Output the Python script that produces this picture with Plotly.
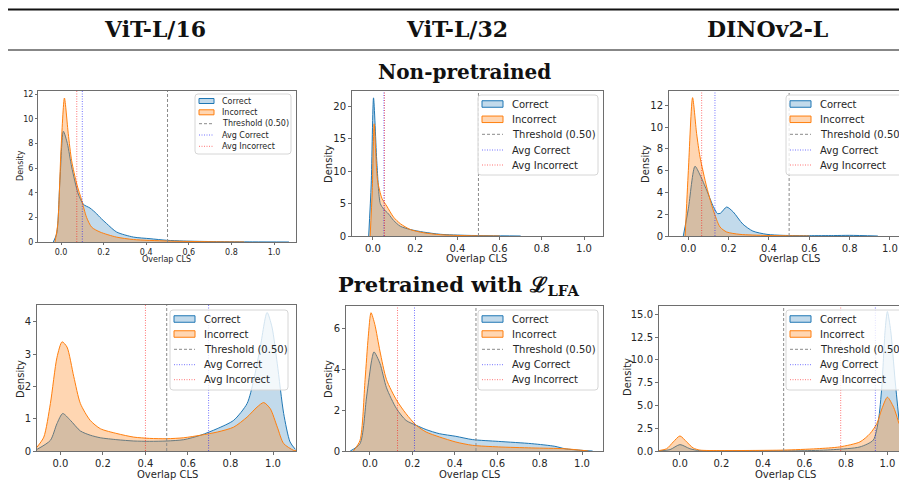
import plotly.graph_objects as go

W, H = 899, 490

# ---------------- data ----------------
col_titles = ["ViT-L/16", "ViT-L/32", "DINOv2-L"]
row_titles = ["Non-pretrained", "Pretrained with ℒ<sub>LFA</sub>"]
legend_labels = ["Correct", "Incorrect", "Threshold (0.50)", "Avg Correct", "Avg Incorrect"]
threshold = 0.5

# Panel 1: ViT-L/16, non-pretrained
p1_cor_x = [-0.036, -0.02, -0.005, 0.011, 0.03, 0.05, 0.081, 0.105, 0.136, 0.167, 0.183, 0.214, 0.261, 0.34, 0.418, 0.496, 0.574, 0.73, 0.9, 1.07]
p1_cor_y = [0, 0.7, 5.0, 9.0, 8.0, 6.1, 3.9, 3.06, 2.76, 2.3, 2.0, 1.5, 0.81, 0.4, 0.27, 0.14, 0.08, 0.03, 0.01, 0]
p1_inc_x = [-0.028, -0.015, 0.0, 0.016, 0.034, 0.05, 0.074, 0.097, 0.12, 0.144, 0.183, 0.26, 0.34, 0.5, 0.7, 0.86]
p1_inc_y = [0, 1.5, 7.5, 11.7, 8.8, 6.6, 4.7, 3.4, 2.0, 1.2, 0.81, 0.4, 0.2, 0.08, 0.02, 0]
p1_avg = [0.10, 0.074]  # [avg correct, avg incorrect]
p1_yticks = [0, 2, 4, 6, 8, 10, 12]

# Panel 2: ViT-L/32, non-pretrained
p2_cor_x = [-0.02, -0.008, 0.003, 0.019, 0.035, 0.05, 0.074, 0.098, 0.13, 0.177, 0.24, 0.32, 0.445, 0.55, 0.7]
p2_cor_y = [0, 8, 21.3, 11.2, 5.0, 4.2, 3.4, 2.4, 1.5, 1.0, 0.6, 0.26, 0.1, 0.05, 0.0]
p2_inc_x = [-0.013, -0.003, 0.006, 0.022, 0.043, 0.066, 0.098, 0.13, 0.177, 0.24, 0.32, 0.445, 0.6]
p2_inc_y = [0, 7, 17.3, 8.6, 5.8, 4.6, 2.9, 1.9, 1.0, 0.5, 0.2, 0.05, 0]
p2_avg = [0.052, 0.055]
p2_yticks = [0, 5, 10, 15, 20]

# Panel 3: DINOv2-L, non-pretrained
p3_cor_x = [-0.025, 0.0, 0.033, 0.058, 0.091, 0.124, 0.145, 0.16, 0.19, 0.223, 0.27, 0.32, 0.39, 0.47, 0.6, 0.72, 0.8, 0.94]
p3_cor_y = [0, 2.5, 6.4, 5.6, 4.2, 2.7, 2.05, 2.1, 2.66, 2.2, 1.1, 0.45, 0.15, 0.06, 0.03, 0.04, 0.06, 0]
p3_inc_x = [-0.016, 0.0, 0.021, 0.041, 0.058, 0.091, 0.124, 0.157, 0.19, 0.256, 0.39, 0.6]
p3_inc_y = [0, 6, 12.7, 9.4, 7.25, 4.5, 2.35, 0.83, 0.37, 0.15, 0.05, 0]
p3_avg = [0.132, 0.066]
p3_yticks = [0, 2, 4, 6, 8, 10, 12]

# Panel 4: ViT-L/16, pretrained with L_LFA
p4_cor_x = [-0.11, -0.047, -0.016, 0.011, 0.047, 0.094, 0.14, 0.188, 0.266, 0.345, 0.42, 0.5, 0.58, 0.66, 0.737, 0.815, 0.878, 0.909, 0.94, 0.972, 0.995, 1.02, 1.05, 1.08, 1.105]
p4_cor_y = [0.05, 0.33, 0.85, 1.16, 0.95, 0.62, 0.49, 0.41, 0.35, 0.31, 0.3, 0.31, 0.35, 0.49, 0.69, 0.95, 1.47, 2.19, 3.22, 4.29, 3.84, 2.7, 1.16, 0.28, 0.05]
p4_inc_x = [-0.11, -0.078, -0.047, -0.016, 0.008, 0.031, 0.063, 0.094, 0.14, 0.188, 0.266, 0.345, 0.42, 0.5, 0.58, 0.66, 0.74, 0.815, 0.878, 0.925, 0.956, 0.987, 1.02, 1.05, 1.097, 1.11]
p4_inc_y = [0.12, 0.43, 1.47, 2.9, 3.38, 3.22, 2.3, 1.47, 0.95, 0.69, 0.54, 0.43, 0.39, 0.38, 0.41, 0.49, 0.59, 0.74, 1.05, 1.36, 1.5, 1.31, 0.74, 0.23, 0.02, 0.01]
p4_avg = [0.697, 0.40]
p4_yticks = [0, 1, 2, 3, 4]

# Panel 5: ViT-L/32, pretrained with L_LFA
p5_cor_x = [-0.093, -0.047, -0.016, 0.008, 0.019, 0.047, 0.078, 0.125, 0.17, 0.218, 0.265, 0.327, 0.405, 0.483, 0.607, 0.763, 0.872, 0.92, 1.0, 1.05]
p5_cor_y = [0, 0.36, 2.65, 4.45, 4.86, 4.3, 3.1, 2.08, 1.5, 1.26, 1.05, 0.85, 0.72, 0.56, 0.47, 0.36, 0.23, 0.11, 0.03, 0]
p5_inc_x = [-0.078, -0.047, -0.023, -0.008, 0.005, 0.023, 0.047, 0.078, 0.125, 0.17, 0.218, 0.265, 0.327, 0.405, 0.483, 0.607, 0.763, 0.92, 1.03]
p5_inc_y = [0, 0.52, 3.5, 5.6, 6.78, 6.2, 4.9, 3.5, 2.5, 1.83, 1.26, 0.93, 0.69, 0.44, 0.28, 0.2, 0.15, 0.11, 0]
p5_avg = [0.21, 0.13]
p5_yticks = [0, 2, 4, 6]

# Panel 6: DINOv2-L, pretrained with L_LFA
p6_cor_x = [-0.1, -0.048, 0.0, 0.048, 0.096, 0.3, 0.6, 0.74, 0.868, 0.932, 0.957, 0.973, 0.989, 1.0, 1.016, 1.037, 1.056]
p6_cor_y = [0.02, 0.15, 0.7, 0.25, 0.03, 0.02, 0.03, 0.15, 0.45, 1.2, 3.4, 7.0, 13.2, 15.3, 13.2, 7.8, 3.4]
p6_inc_x = [-0.1, -0.064, -0.032, 0.0, 0.032, 0.064, 0.096, 0.2, 0.35, 0.5, 0.66, 0.77, 0.868, 0.916, 0.949, 0.973, 1.0, 1.03, 1.056]
p6_inc_y = [0.05, 0.25, 1.0, 1.65, 1.0, 0.33, 0.1, 0.05, 0.06, 0.1, 0.25, 0.45, 1.0, 1.9, 3.0, 4.6, 5.9, 4.8, 3.0]
p6_avg = [0.942, 0.775]
p6_yticks = [0, 2.5, 5, 7.5, 10, 12.5, 15]

x_ticks = [0.0, 0.2, 0.4, 0.6, 0.8, 1.0]

# ---------------- styling / layout ----------------
C_BLUE = "#1f77b4"
C_ORANGE = "#ff7f0e"
F_BLUE = "rgba(31,119,180,0.27)"
F_ORANGE = "rgba(255,127,14,0.32)"
C_THR = "#8a8a8a"
C_AVG_COR = "rgba(0,0,255,0.55)"
C_AVG_INC = "rgba(255,0,0,0.55)"
DASH = "3px,2px"
DOT = "1px,1.5px"
SANS = "DejaVu Sans"
SERIF = "DejaVu Serif"
TXT = "#262626"
FRAME = "#6e6e6e"


def pxx(x):
    return x / W


def pyy(y):
    return 1 - y / H


def rounded_rect(x0, x1, y0, y1, r=3):
    # pixel box -> paper-space svg path with rounded corners
    rx, ry = r / W, r / H
    X0, X1 = pxx(x0), pxx(x1)
    Yt, Yb = pyy(y0), pyy(y1)
    return (f"M{X0 + rx},{Yt} L{X1 - rx},{Yt} Q{X1},{Yt} {X1},{Yt - ry} "
            f"L{X1},{Yb + ry} Q{X1},{Yb} {X1 - rx},{Yb} L{X0 + rx},{Yb} Q{X0},{Yb} {X0},{Yb + ry} "
            f"L{X0},{Yt - ry} Q{X0},{Yt} {X0 + rx},{Yt} Z")


panels = [
    dict(cx=p1_cor_x, cy=p1_cor_y, ix=p1_inc_x, iy=p1_inc_y, avg=p1_avg, yt=p1_yticks, ytf="d",
         box=(38, 296, 91, 242), xr=(-0.108, 1.103), yr=(0, 12.27), fs=8, tl=2, right=True,
         xlab=(166, 259), ylab=(20, 166),
         leg=dict(box=(195, 291, 94, 154), ys=[101, 112.3, 123.7, 135, 146.3], p0=199, p1=214, tx=220, ph=5)),
    dict(cx=p2_cor_x, cy=p2_cor_y, ix=p2_inc_x, iy=p2_inc_y, avg=p2_avg, yt=p2_yticks, ytf="d",
         box=(352, 603, 91, 236), xr=(-0.099, 1.09), yr=(0, 22.36), fs=10, tl=3, right=True,
         xlab=(477, 258), ylab=(328, 164),
         leg=dict(box=(478, 598, 95, 175), ys=[104, 119.3, 134.3, 150, 165], p0=482, p1=503, tx=510, ph=6.5)),
    dict(cx=p3_cor_x, cy=p3_cor_y, ix=p3_inc_x, iy=p3_inc_y, avg=p3_avg, yt=p3_yticks, ytf="d",
         box=(669, 899, 91, 236), xr=(-0.096, 1.045), yr=(0, 13.31), fs=10, tl=3, right=False,
         xlab=(789, 258), ylab=(645, 164),
         leg=dict(box=(786, 915, 95, 175), ys=[104, 119.3, 134.3, 150, 165], p0=790, p1=811, tx=818, ph=6.5)),
    dict(cx=p4_cor_x, cy=p4_cor_y, ix=p4_inc_x, iy=p4_inc_y, avg=p4_avg, yt=p4_yticks, ytf="d",
         box=(37, 296, 305, 451), xr=(-0.11, 1.108), yr=(0, 4.52), fs=10, tl=3, right=True,
         xlab=(167, 474), ylab=(20, 379),
         leg=dict(box=(170, 288, 310, 390), ys=[319, 334, 349.3, 364.7, 379.7], p0=174, p1=195, tx=202, ph=6.5)),
    dict(cx=p5_cor_x, cy=p5_cor_y, ix=p5_inc_x, iy=p5_inc_y, avg=p5_avg, yt=p5_yticks, ytf="d",
         box=(346, 603, 306, 451), xr=(-0.113, 1.099), yr=(0, 7.11), fs=10, tl=3, right=True,
         xlab=(469, 474), ylab=(328, 379),
         leg=dict(box=(478, 598, 310, 390), ys=[319, 334, 349.3, 364.7, 379.7], p0=482, p1=503, tx=510, ph=6.5)),
    dict(cx=p6_cor_x, cy=p6_cor_y, ix=p6_inc_x, iy=p6_inc_y, avg=p6_avg, yt=p6_yticks, ytf=".1f",
         box=(659, 899, 306, 451), xr=(-0.101, 1.056), yr=(0, 15.91), fs=10, tl=3, right=False,
         xlab=(785, 474), ylab=(627, 377),
         leg=dict(box=(786, 915, 310, 390), ys=[319, 334, 349.3, 364.7, 379.7], p0=790, p1=811, tx=818, ph=6.5)),
]

fig = go.Figure()
shapes = []
annotations = []
layout_axes = {}

for i, p in enumerate(panels, start=1):
    xa = "x" if i == 1 else f"x{i}"
    ya = "y" if i == 1 else f"y{i}"
    ymax = p["yr"][1]
    # KDE fills
    fig.add_trace(go.Scatter(x=p["cx"], y=p["cy"], xaxis=xa, yaxis=ya, mode="lines",
                             line=dict(color=C_BLUE, width=1, shape="spline", smoothing=0.7),
                             fill="tozeroy", fillcolor=F_BLUE, showlegend=False, name="Correct"))
    fig.add_trace(go.Scatter(x=p["ix"], y=p["iy"], xaxis=xa, yaxis=ya, mode="lines",
                             line=dict(color=C_ORANGE, width=1, shape="spline", smoothing=0.7),
                             fill="tozeroy", fillcolor=F_ORANGE, showlegend=False, name="Incorrect"))
    # vertical lines
    fig.add_trace(go.Scatter(x=[threshold, threshold], y=[0, ymax], xaxis=xa, yaxis=ya, mode="lines",
                             line=dict(color=C_THR, width=1, dash=DASH), showlegend=False,
                             name="Threshold (0.50)"))
    fig.add_trace(go.Scatter(x=[p["avg"][0]] * 2, y=[0, ymax], xaxis=xa, yaxis=ya, mode="lines",
                             line=dict(color=C_AVG_COR, width=1, dash=DOT), showlegend=False,
                             name="Avg Correct"))
    fig.add_trace(go.Scatter(x=[p["avg"][1]] * 2, y=[0, ymax], xaxis=xa, yaxis=ya, mode="lines",
                             line=dict(color=C_AVG_INC, width=1, dash=DOT), showlegend=False,
                             name="Avg Incorrect"))

    x0, x1, y0, y1 = p["box"]
    tickfont = dict(family=SANS, size=p["fs"], color=TXT)
    layout_axes["xaxis" if i == 1 else f"xaxis{i}"] = dict(
        domain=[pxx(x0), pxx(x1)], anchor=ya, range=list(p["xr"]), tickvals=x_ticks, tickformat=".1f",
        showgrid=False, zeroline=False, showline=True, linecolor=FRAME, linewidth=1, mirror=True,
        ticks="outside", ticklen=p["tl"], tickcolor=FRAME, tickfont=tickfont, fixedrange=True)
    layout_axes["yaxis" if i == 1 else f"yaxis{i}"] = dict(
        domain=[pyy(y1), pyy(y0)], anchor=xa, range=list(p["yr"]), tickvals=p["yt"], tickformat=p["ytf"],
        showgrid=False, zeroline=False, showline=True, linecolor=FRAME, linewidth=1,
        mirror=p["right"], ticks="outside", ticklen=p["tl"], tickcolor=FRAME, tickfont=tickfont,
        fixedrange=True)

    # axis titles
    lab_font = dict(family=SANS, size=p["fs"], color=TXT)
    annotations.append(dict(text="Overlap CLS", x=pxx(p["xlab"][0]), y=pyy(p["xlab"][1]), xref="paper",
                            yref="paper", showarrow=False, font=lab_font, xanchor="center", yanchor="middle"))
    annotations.append(dict(text="Density", x=pxx(p["ylab"][0]), y=pyy(p["ylab"][1]), xref="paper",
                            yref="paper", showarrow=False, font=lab_font, textangle=-90,
                            xanchor="center", yanchor="middle"))

    # manual legend (matplotlib style)
    lg = p["leg"]
    bx0, bx1, by0, by1 = lg["box"]
    shapes.append(dict(type="path", xref="paper", yref="paper", path=rounded_rect(bx0, bx1, by0, by1),
                       fillcolor="rgba(255,255,255,0.8)", line=dict(color="#d6d6d6", width=1),
                       layer="above"))
    ys = lg["ys"]
    ph = lg["ph"]
    patch_styles = [(F_BLUE, C_BLUE), (F_ORANGE, C_ORANGE)]
    for k in range(2):
        fc, lc = patch_styles[k]
        shapes.append(dict(type="rect", xref="paper", yref="paper", x0=pxx(lg["p0"]), x1=pxx(lg["p1"]),
                           y0=pyy(ys[k] + ph / 2), y1=pyy(ys[k] - ph / 2), fillcolor=fc,
                           line=dict(color=lc, width=1), layer="above"))
    line_styles = [(C_THR, DASH), (C_AVG_COR, DOT), (C_AVG_INC, DOT)]
    for k in range(3):
        c, d = line_styles[k]
        shapes.append(dict(type="line", xref="paper", yref="paper", x0=pxx(lg["p0"]), x1=pxx(lg["p1"]),
                           y0=pyy(ys[k + 2]), y1=pyy(ys[k + 2]), line=dict(color=c, width=1, dash=d),
                           layer="above"))
    for k, lab in enumerate(legend_labels):
        annotations.append(dict(text=lab, x=pxx(lg["tx"]), y=pyy(ys[k]), xref="paper", yref="paper",
                                showarrow=False, xanchor="left", yanchor="middle",
                                font=dict(family=SANS, size=p["fs"], color=TXT)))

# table rules
shapes.append(dict(type="line", xref="paper", yref="paper", x0=pxx(8), x1=1, y0=pyy(9.5), y1=pyy(9.5),
                   line=dict(color="#111111", width=2)))
shapes.append(dict(type="line", xref="paper", yref="paper", x0=pxx(8), x1=1, y0=pyy(50), y1=pyy(50),
                   line=dict(color="#111111", width=1.2)))

# column headers
col_x = [155, 457, 767]
for t, cx in zip(col_titles, col_x):
    annotations.append(dict(text=t, x=pxx(cx), y=pyy(29), xref="paper", yref="paper", showarrow=False,
                            xanchor="center", yanchor="middle",
                            font=dict(family=SERIF, size=22, color="#111111", weight="bold")))
# row section titles
row_pos = [(464, 72), (458, 285)]
row_sizes = [20, 21]
for t, (rx, ry), fsz in zip(row_titles, row_pos, row_sizes):
    annotations.append(dict(text=t, x=pxx(rx), y=pyy(ry), xref="paper", yref="paper", showarrow=False,
                            xanchor="center", yanchor="middle",
                            font=dict(family=SERIF, size=fsz, color="#111111", weight="bold")))

fig.update_layout(
    width=W, height=H, margin=dict(l=0, r=0, t=0, b=0, autoexpand=False),
    paper_bgcolor="white", plot_bgcolor="white", showlegend=False, hovermode=False,
    shapes=shapes, annotations=annotations, **layout_axes)

fig.write_html("out.html", config={"displayModeBar": False, "staticPlot": True},
               post_script="document.body.style.margin='0';document.body.style.padding='0';")
